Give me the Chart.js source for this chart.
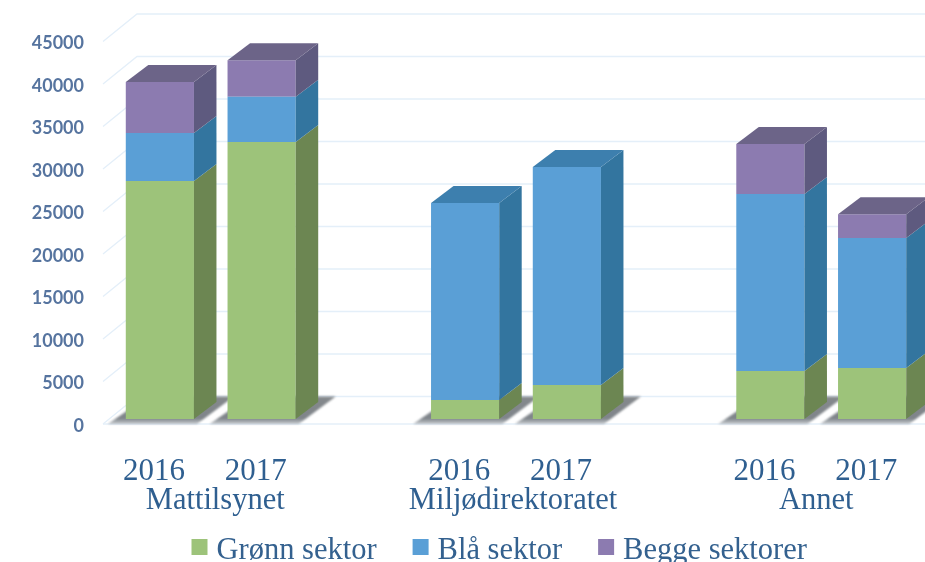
<!DOCTYPE html>
<html>
<head>
<meta charset="utf-8">
<script src="https://cdn.jsdelivr.net/npm/chart.js@4"></script>
<style>
html,body{margin:0;padding:0;background:#fff;overflow:hidden}
#wrap{position:relative;width:925px;height:562px}
</style>
</head>
<body>
<div id="wrap"><canvas id="c" width="925" height="562"></canvas></div>
<script>
const yearLabels = ['2016','2017','','2016','2017','','2016','2017'];
const groupLabels = ['Mattilsynet','Miljødirektoratet','Annet'];
const groupSlots = [[0,1,4.5],[3,4,-3],[6,7,-5]];
const seriesNames = ['Grønn sektor','Blå sektor','Begge sektorer'];
const gronn = [28000,32600,null,2250,4000,null,5650,6000];
const bla = [5650,5300,null,23150,25650,null,20820,15300];
const begge = [6000,4300,null,0,0,null,5880,2800];
const yMax = 45000;
const yStep = 5000;

const frontColors = ['#9dc37a','#5a9fd6','#8c7bb0'];
const sideColors = ['#6c8652','#33759f','#5e5a7f'];
const topColors = ['#7d9b62','#3d7fae','#6c6488'];
const depthX = 22.5, depthY = -17;
const gridFront = 5, gridBackY = -22.5, gridFrontX = 103, gridBackX = 137;

const threeD = {
  id:'threeD',
  beforeDatasetsDraw(chart){
    const {ctx, scales:{x,y}, width} = chart;
    ctx.save();
    ctx.strokeStyle = '#e4eff9';
    ctx.lineWidth = 1.3;
    y.ticks.forEach(t=>{
      const p = y.getPixelForValue(t.value);
      ctx.beginPath();
      ctx.moveTo(gridFrontX,p+gridFront);
      ctx.lineTo(gridBackX,p+gridBackY);
      ctx.lineTo(width,p+gridBackY);
      ctx.stroke();
    });
    const b0 = y.getPixelForValue(0);
    ctx.beginPath();
    ctx.moveTo(gridFrontX,b0+gridFront);
    ctx.lineTo(width,b0+gridFront);
    ctx.stroke();
    const m = chart.getDatasetMeta(0);
    ctx.filter = 'blur(1px)';
    m.data.forEach((bar,i)=>{
      if(gronn[i]==null) return;
      const hw = bar.width/2, x0 = bar.x-hw, x1 = bar.x+hw;
      const g = ctx.createLinearGradient(0,b0+gridBackY,0,b0+gridFront);
      g.addColorStop(0,'rgba(120,124,128,0.9)');
      g.addColorStop(0.8,'rgba(120,126,132,0.95)');
      g.addColorStop(1,'rgba(170,176,182,0.7)');
      ctx.fillStyle = g;
      ctx.beginPath();
      ctx.moveTo(x0-18,b0+gridFront);
      ctx.lineTo(x1+3,b0+gridFront);
      ctx.lineTo(x1+40,b0+gridBackY);
      ctx.lineTo(x0+22,b0+gridBackY);
      ctx.closePath();
      ctx.fill();
    });
    ctx.restore();
  },
  afterDatasetsDraw(chart){
    const {ctx} = chart;
    ctx.save();
    const metas = chart.data.datasets.map((d,i)=>chart.getDatasetMeta(i));
    metas[0].data.forEach((_,i)=>{
      if(gronn[i]==null) return;
      let topIdx = 0;
      metas.forEach((m,s)=>{
        const bar = m.data[i];
        const v = chart.data.datasets[s].data[i];
        if(!v) return;
        topIdx = s;
        const r = bar.x+bar.width/2;
        ctx.fillStyle = sideColors[s];
        ctx.beginPath();
        ctx.moveTo(r,bar.base);
        ctx.lineTo(r+depthX,bar.base+depthY);
        ctx.lineTo(r+depthX,bar.y+depthY);
        ctx.lineTo(r,bar.y);
        ctx.closePath();
        ctx.fill();
      });
      const tb = metas[topIdx].data[i];
      const l = tb.x-tb.width/2, r = tb.x+tb.width/2;
      ctx.fillStyle = topColors[topIdx];
      ctx.beginPath();
      ctx.moveTo(l,tb.y);
      ctx.lineTo(r,tb.y);
      ctx.lineTo(r+depthX,tb.y+depthY);
      ctx.lineTo(l+depthX,tb.y+depthY);
      ctx.closePath();
      ctx.fill();
    });
    ctx.restore();
  },
  afterDraw(chart){
    const {ctx, scales:{x}} = chart;
    ctx.save();
    ctx.font = '30.5px "Liberation Serif"';
    ctx.fillStyle = '#2f5f90';
    ctx.textAlign = 'center';
    ctx.textBaseline = 'middle';
    groupLabels.forEach((g,i)=>{
      const [a,b,off] = groupSlots[i];
      const cx = (x.getPixelForValue(a)+x.getPixelForValue(b))/2+off;
      ctx.fillText(g,cx,501);
    });
    // legend
    ctx.textAlign = 'left';
    let lx = 191.5;
    seriesNames.forEach((n,i)=>{
      ctx.fillStyle = frontColors[i];
      ctx.fillRect(lx,539,16,16);
      lx += 25;
      ctx.fillStyle = '#34618f';
      ctx.fillText(n,lx,551);
      lx += ctx.measureText(n).width + 36;
    });
    ctx.restore();
  }
};

new Chart(document.getElementById('c'),{
  type:'bar',
  data:{
    labels:yearLabels,
    datasets:[
      {label:seriesNames[0],data:gronn,backgroundColor:frontColors[0]},
      {label:seriesNames[1],data:bla,backgroundColor:frontColors[1]},
      {label:seriesNames[2],data:begge,backgroundColor:frontColors[2]}
    ]
  },
  options:{
    responsive:false,
    animation:false,
    barPercentage:0.67,
    categoryPercentage:1,
    layout:{padding:{left:0,right:2,top:36.5,bottom:0}},
    plugins:{
      tooltip:{enabled:false},
      legend:{display:false}
    },
    scales:{
      x:{
        stacked:true,
        grid:{display:false,drawTicks:false},
        border:{display:false},
        ticks:{autoSkip:false,maxRotation:0,minRotation:0,labelOffset:-6,padding:34,color:'#2f5f90',font:{family:'"Liberation Serif"',size:31}},
        afterFit(s){s.height=143;s.paddingLeft=0;s.paddingRight=0;}
      },
      y:{
        stacked:true,
        min:0,max:yMax,
        grid:{display:false,drawTicks:false},
        border:{display:false},
        ticks:{stepSize:yStep,padding:25,labelOffset:7,format:{useGrouping:false},color:'#56749f',font:{family:'Lato',size:18,weight:'bold'}},
        afterFit(s){s.width=109;s.paddingTop=0;s.paddingBottom=0;}
      }
    }
  },
  plugins:[threeD]
});
</script>
</body>
</html>
